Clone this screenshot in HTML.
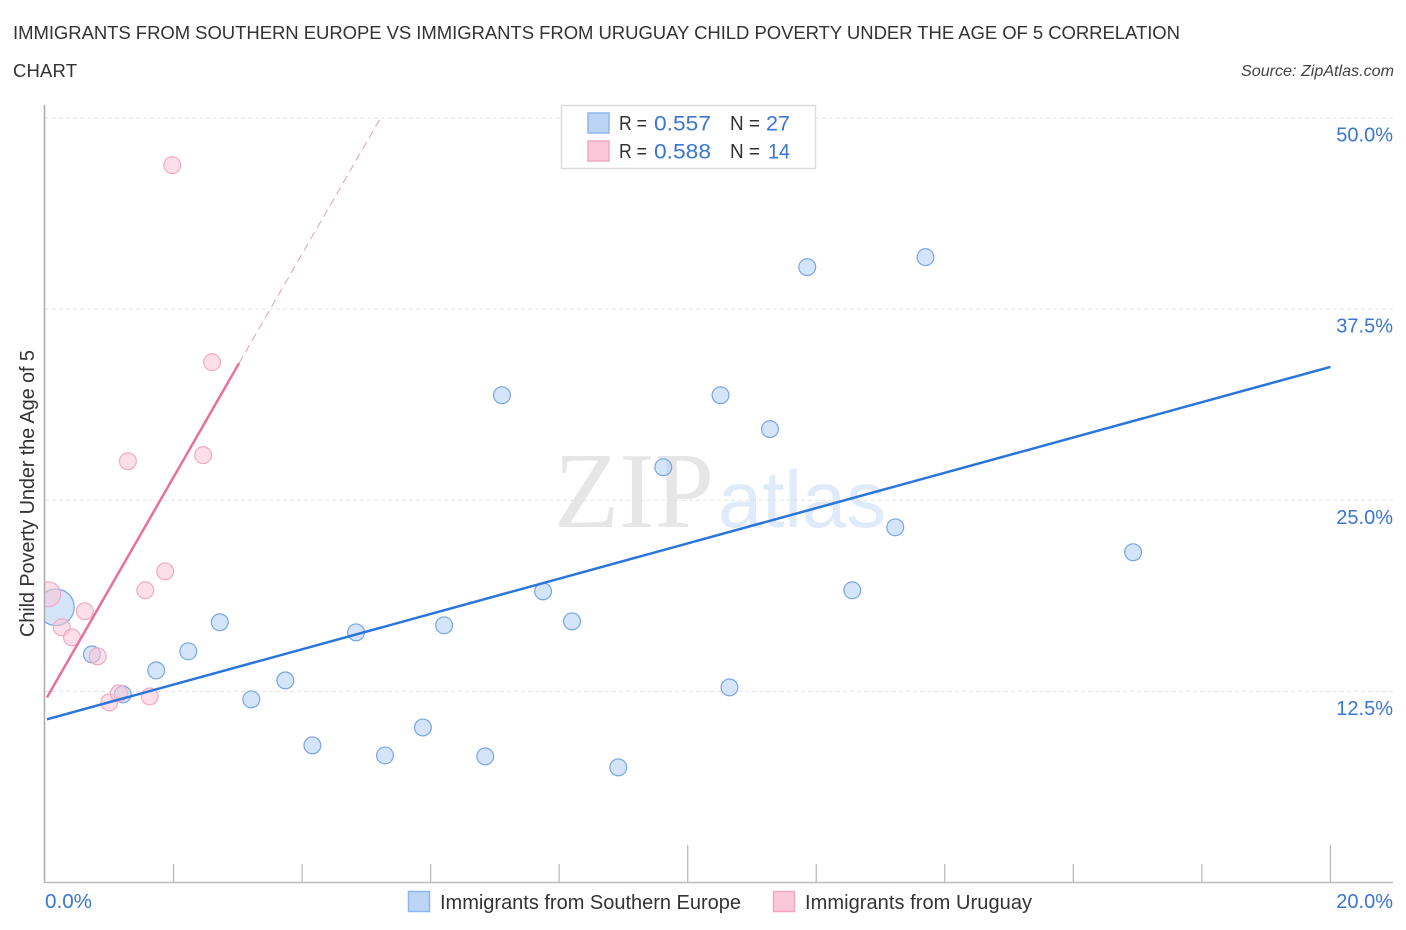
<!DOCTYPE html>
<html lang="en">
<head>
<meta charset="utf-8">
<title>Immigrants from Southern Europe vs Immigrants from Uruguay Child Poverty Correlation Chart</title>
<style>
html,body{margin:0;padding:0;background:#fff;width:1406px;height:930px;overflow:hidden}
svg{display:block;font-family:"Liberation Sans",sans-serif}
</style>
</head>
<body>
<svg id="chart" xmlns="http://www.w3.org/2000/svg" width="1406" height="930" viewBox="0 0 1406 930">
  <text x="13" y="39" font-size="18.5" fill="#333" textLength="1167" lengthAdjust="spacing">IMMIGRANTS FROM SOUTHERN EUROPE VS IMMIGRANTS FROM URUGUAY CHILD POVERTY UNDER THE AGE OF 5 CORRELATION</text>
  <text x="13" y="77" font-size="18.5" fill="#333" textLength="64" lengthAdjust="spacing">CHART</text>
  <text x="1241" y="76" font-size="16" font-style="italic" fill="#444" textLength="153" lengthAdjust="spacingAndGlyphs">Source: ZipAtlas.com</text>

  <g>
    <text x="554" y="527" font-family="'Liberation Serif',serif" font-size="108" fill="#e6e6e6" textLength="160" lengthAdjust="spacingAndGlyphs">ZIP</text>
    <text x="718" y="527" font-size="80" fill="#dfeafa" textLength="168" lengthAdjust="spacingAndGlyphs">atlas</text>
  </g>

  <g id="grid"></g>
  <g id="pointsBlue"></g>
  <g id="pointsPink"></g>
  <g id="trends"></g>

  <rect x="0" y="100" width="44.5" height="783" fill="#fff"/>
  <g id="axes"></g>
  <g id="ylabels"></g>
  <g id="xlabels"></g>
  <text transform="translate(34,493.5) rotate(-90)" font-size="20" fill="#333" text-anchor="middle" textLength="287" lengthAdjust="spacing">Child Poverty Under the Age of 5</text>

  <g>
    <rect x="561.5" y="105.5" width="254" height="63" fill="#fff" stroke="#dcdcdc" stroke-width="1.5"/>
    <rect x="588" y="113" width="21" height="20" fill="#bcd5f7" stroke="#8fb6ec" stroke-width="1.5"/>
    <rect x="588" y="141" width="21" height="20" fill="#fcc8d9" stroke="#f2a8c0" stroke-width="1.5"/>
    <g font-size="20" fill="#333">
      <text x="619" y="130" textLength="28" lengthAdjust="spacingAndGlyphs">R =</text>
      <text x="730" y="130" textLength="30" lengthAdjust="spacingAndGlyphs">N =</text>
      <text x="619" y="158" textLength="28" lengthAdjust="spacingAndGlyphs">R =</text>
      <text x="730" y="158" textLength="30" lengthAdjust="spacingAndGlyphs">N =</text>
    </g>
    <g font-size="21.5" fill="#3a76d2">
      <text x="654" y="130.5" textLength="57" lengthAdjust="spacingAndGlyphs">0.557</text>
      <text x="766" y="130.5" textLength="24" lengthAdjust="spacingAndGlyphs">27</text>
      <text x="654" y="158.5" textLength="57" lengthAdjust="spacingAndGlyphs">0.588</text>
      <text x="768" y="158.5" textLength="22" lengthAdjust="spacingAndGlyphs">14</text>
    </g>
  </g>

  <g>
    <rect x="408.5" y="891.5" width="21" height="20" fill="#bcd5f7" stroke="#8fb6ec" stroke-width="1.5"/>
    <text x="440" y="909" font-size="20" fill="#333" textLength="301" lengthAdjust="spacing">Immigrants from Southern Europe</text>
    <rect x="773.5" y="891.5" width="21" height="20" fill="#fcc8d9" stroke="#f2a8c0" stroke-width="1.5"/>
    <text x="805" y="909" font-size="20" fill="#333" textLength="227" lengthAdjust="spacing">Immigrants from Uruguay</text>
  </g>
</svg>
<script>
// Chart data
const blueX = [0.17,0.73,1.21,1.73,2.23,2.72,3.21,3.74,4.16,4.84,5.29,5.88,6.21,6.85,7.11,7.75,8.2,8.92,9.62,10.51,10.65,11.28,11.86,12.56,13.23,13.7,16.93];
const blueY = [18.0,14.92,12.3,13.87,15.12,17.02,11.98,13.22,8.97,16.36,8.31,10.14,16.82,8.25,31.87,19.04,17.08,7.53,27.16,31.87,12.76,29.65,40.25,19.11,23.23,40.9,21.6];
const blueWeight = [4.75,1,1,1,1,1,1,1,1,1,1,1,1,1,1,1,1,1,1,1,1,1,1,1,1,1,1];
const pinkX = [0.05,0.26,0.42,0.62,0.82,1.0,1.15,1.29,1.56,1.63,1.87,1.98,2.46,2.6];
const pinkY = [18.85,16.69,16.03,17.74,14.79,11.78,12.37,27.55,19.11,12.17,20.35,46.92,27.95,34.03];
const pinkWeight = [2.2,1,1,1,1,1,1,1,1,1,1,1,1,1];
const blueTrendX = [0.03,20];
const blueTrendY = [10.67,33.72];
const pinkTrendX = [0.03,3.02];
const pinkTrendY = [12.1,33.97];
const pinkDashX = [3.02,5.22];
const pinkDashY = [33.97,50];
const yTicks = [12.5,25,37.5,50];
const yTickLabels = ["12.5%","25.0%","37.5%","50.0%"];
const xTicks = [0,2,4,6,8,10,12,14,16,18,20];
const xMajorTicks = [0,10,20];
const xEndLabels = ["0.0%","20.0%"];

const SVG_NS = "http://www.w3.org/2000/svg";
const sx = v => 45 + v * 64.27;
const sy = v => 882.5 - v * 15.29;
const R = 8.4;

function make(tag, parent, attrs) {
  const el = document.createElementNS(SVG_NS, tag);
  for (const k in attrs) el.setAttribute(k, attrs[k]);
  parent.appendChild(el);
  return el;
}

const grid = document.getElementById("grid");
yTicks.forEach(t => {
  const ln = make("line", grid, {x1:45, x2:1393, y1:sy(t), y2:sy(t), stroke:"#e3e3e3", "stroke-width":1, "stroke-dasharray":"4 3"});
  
  
});

const axes = document.getElementById("axes");
const yAxis = make("line", axes, {x1:44.5, x2:44.5, y1:105, y2:883, stroke:"#aaa", "stroke-width":1.5});


const xAxis = make("line", axes, {x1:44, x2:1393, y1:882.5, y2:882.5, stroke:"#bbb", "stroke-width":1.5});


xTicks.forEach(t => {
  if (t === 0) return;
  const top = xMajorTicks.includes(t) ? 845 : 864;
  const tk = make("line", axes, {x1:sx(t), x2:sx(t), y1:top, y2:882, stroke:"#bbb", "stroke-width":1.3});
  
  
});

const ylabels = document.getElementById("ylabels");
yTicks.forEach((t, i) => {
  const lb = make("text", ylabels, {x:1393, y:sy(t) + 23.5, "font-size":20, fill:"#3a76d2", "text-anchor":"end"});
  lb.textContent = yTickLabels[i];
  
  
});

const xlabels = document.getElementById("xlabels");
const xl0 = make("text", xlabels, {x:45, y:908, "font-size":20, fill:"#3a76d2", textLength:47, lengthAdjust:"spacingAndGlyphs"});
xl0.textContent = xEndLabels[0];


const xl1 = make("text", xlabels, {x:1393, y:908, "font-size":20, fill:"#3a76d2", "text-anchor":"end"});
xl1.textContent = xEndLabels[1];



const gBlue = document.getElementById("pointsBlue");
blueX.forEach((x, i) => {
  const c = make("circle", gBlue, {cx:sx(x), cy:sy(blueY[i]), r:R * Math.sqrt(blueWeight[i]) , fill:"rgba(183,212,247,0.6)", stroke:"#78a6e4", "stroke-width":1.2});
  
  
});

const gPink = document.getElementById("pointsPink");
pinkX.forEach((x, i) => {
  const c = make("circle", gPink, {cx:sx(x), cy:sy(pinkY[i]), r:R * Math.sqrt(pinkWeight[i]), fill:"rgba(251,197,215,0.55)", stroke:"#f3a9c2", "stroke-width":1.2});
  
  
});

const trends = document.getElementById("trends");
const tDash = make("line", trends, {x1:sx(pinkDashX[0]), y1:sy(pinkDashY[0]), x2:sx(pinkDashX[1]), y2:sy(pinkDashY[1]), stroke:"#e99ab8", "stroke-width":1, "stroke-dasharray":"8 5"});


const tPink = make("line", trends, {x1:sx(pinkTrendX[0]), y1:sy(pinkTrendY[0]), x2:sx(pinkTrendX[1]), y2:sy(pinkTrendY[1]), stroke:"#e8709a", "stroke-width":2.5});


const tBlue = make("line", trends, {x1:sx(blueTrendX[0]), y1:sy(blueTrendY[0]), x2:sx(blueTrendX[1]), y2:sy(blueTrendY[1]), stroke:"#2a75d9", "stroke-width":2.5});


</script>
</body>
</html>
